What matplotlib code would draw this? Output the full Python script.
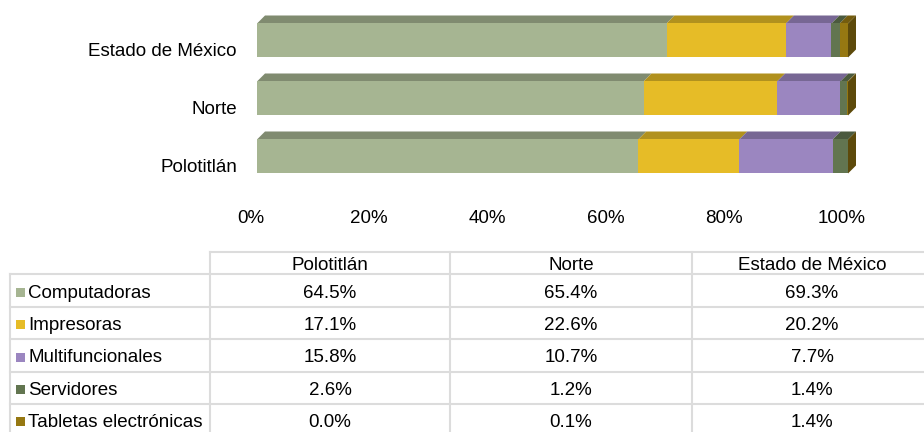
import numpy as np
import matplotlib.pyplot as plt
from matplotlib.patches import Polygon
from matplotlib.transforms import ScaledTranslation
from matplotlib.colors import to_rgb

# datos
regiones = ["Polotitlán", "Norte", "Estado de México"]
series = ["Computadoras", "Impresoras", "Multifuncionales", "Servidores",
          "Tabletas electrónicas"]
computadoras = [64.5, 65.4, 69.3]
impresoras = [17.1, 22.6, 20.2]
multifuncionales = [15.8, 10.7, 7.7]
servidores = [2.6, 1.2, 1.4]
tabletas = [0.0, 0.1, 1.4]
ticks = [0, 20, 40, 60, 80, 100]
colores = ["#A6B592", "#E6BC27", "#9B86C0", "#627550", "#967812"]

plt.rcParams['font.family'] = ['Liberation Sans', 'DejaVu Sans']
FS = 13.5
W, H = 924, 432


def rect(x0, y0, x1, y1):
    # caja en pixeles -> fraccion de figura
    return [x0 / W, 1 - y1 / H, (x1 - x0) / W, (y1 - y0) / H]


def shade(c, f):
    r, g, b = to_rgb(c)
    return (r * f, g * f, b * f)


fig = plt.figure(figsize=(W / 100, H / 100), dpi=100)

# ---- barras 3D apiladas ----
ax = fig.add_axes(rect(257, 5, 848, 195))
ax.set_xlim(0, 100)
ax.set_ylim(-0.664, 2.612)
for s in ax.spines.values():
    s.set_visible(False)

valores = np.array([computadoras, impresoras, multifuncionales, servidores, tabletas])
y = np.arange(len(regiones))
h = 34 / 58          # alto de la cara frontal
dy = 8 / 58          # profundidad vertical
dx = 8 / 591 * 100   # profundidad horizontal

left = np.zeros(len(regiones))
for i, vals in enumerate(valores):
    ax.barh(y, vals, left=left, height=h, color=colores[i], linewidth=0, zorder=2)
    for j in range(len(regiones)):
        x0, x1 = left[j], left[j] + vals[j]
        yt = y[j] + h / 2
        top = Polygon([(x0, yt), (x1, yt), (x1 + dx, yt + dy), (x0 + dx, yt + dy)],
                      closed=True, facecolor=shade(colores[i], 0.77),
                      linewidth=0, clip_on=False, zorder=1)
        ax.add_patch(top)
    left = left + vals

# cara lateral al final de cada barra
for j in range(len(regiones)):
    yb, yt = y[j] - h / 2, y[j] + h / 2
    xe = left[j]
    side = Polygon([(xe, yb), (xe, yt), (xe + dx, yt + dy), (xe + dx, yb + dy)],
                   closed=True, facecolor=shade(colores[-1], 0.62),
                   linewidth=0, clip_on=False, zorder=3)
    ax.add_patch(side)

ax.set_xticks(ticks, [f"{t}%" for t in ticks])
ax.set_yticks(y, regiones)
ax.tick_params(axis='x', length=0, pad=11, labelsize=FS)
ax.tick_params(axis='y', length=0, pad=14.4, labelsize=FS)
for lbl in ax.get_xticklabels():
    lbl.set_transform(lbl.get_transform() + ScaledTranslation(-0.06, 0, fig.dpi_scale_trans))
for lbl in ax.get_yticklabels():
    lbl.set_transform(lbl.get_transform() + ScaledTranslation(0, -0.095, fig.dpi_scale_trans))

# ---- tabla de datos ----
tax = fig.add_axes([0, 0, 1, 1], zorder=-1)
tax.set_xlim(0, W)
tax.set_ylim(H, 0)
tax.axis('off')

gris = "#DCDCDC"
col_x = [210, 450, 692, 932]
fila_y = [274, 307, 339, 372, 404, 436]

tax.plot([210, W], [252, 252], color=gris, lw=1.5)
for yy in fila_y:
    tax.plot([10, W], [yy, yy], color=gris, lw=1.5)
tax.plot([10, 10], [274, H], color=gris, lw=1.5)
for xx in col_x[:-1]:
    tax.plot([xx, xx], [252, H], color=gris, lw=1.5)

for k, reg in enumerate(regiones):
    cx = (col_x[k] + col_x[k + 1]) / 2
    tax.text(cx, 265, reg, ha='center', va='center', fontsize=FS)

for i, nombre in enumerate(series):
    cy = (fila_y[i] + fila_y[i + 1]) / 2
    tax.add_patch(plt.Rectangle((16, cy - 3), 9, 9, facecolor=colores[i], linewidth=0))
    tax.text(28, cy + 2.5, nombre, ha='left', va='center', fontsize=FS)
    for k in range(len(regiones)):
        cx = (col_x[k] + col_x[k + 1]) / 2
        tax.text(cx, cy + 2.5, f"{valores[i][k]:.1f}%", ha='center', va='center', fontsize=FS)

fig.savefig("out.png", dpi=100)
